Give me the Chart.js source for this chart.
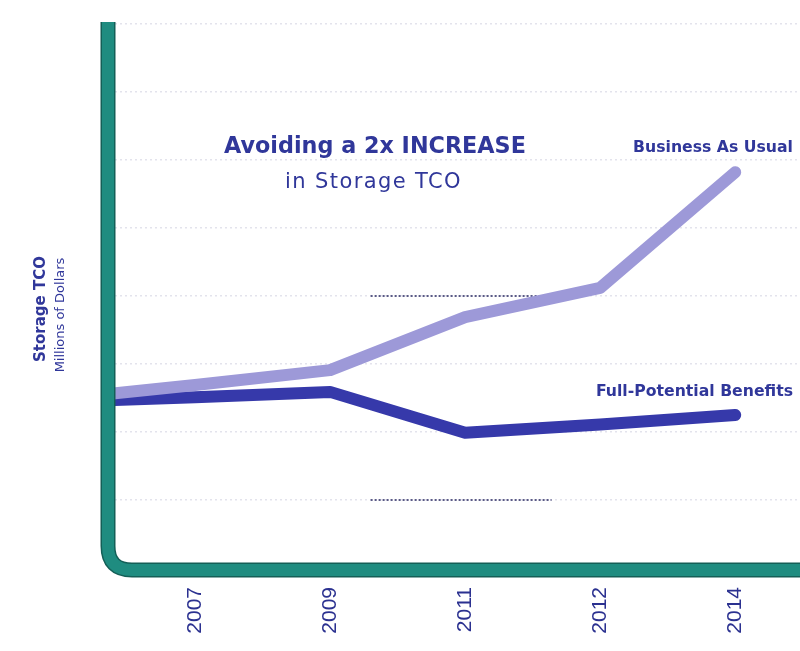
<!DOCTYPE html>
<html><head><meta charset="utf-8">
<script src="https://cdn.jsdelivr.net/npm/chart.js@4/dist/chart.umd.min.js"></script>
<style>html,body{margin:0;padding:0;background:#fff;overflow:hidden}#wrap{width:800px;height:651px}</style>
</head><body><div id="wrap"><canvas id="c" width="800" height="651"></canvas></div>
<script>
// Categories (x axis tick labels)
const years = ['2007', '2009', '2011', '2012', '2014'];
// Storage TCO (arbitrary units) at each year
const businessAsUsual = [26.9, 29.1, 36.9, 41.2, 58.2];
const fullPotential   = [25.1, 25.9, 19.9, 21.1, 22.5];
// Values where each line meets the y axis
const axisStart = { businessAsUsual: 25.7, fullPotential: 24.7 };
// Y gridline values
const yMax = 80, yStep = 10;

const X_MIN = -0.593, X_MAX = 4.48;
function toPoints(start, arr) {
  return [{ x: X_MIN, y: start }].concat(arr.map((v, i) => ({ x: i, y: v })));
}

const NAVY = '#30379a';
const FONT = '"DejaVu Sans"';
const decor = {
  id: 'decor',
  beforeDatasetsDraw(chart) {
    const { ctx } = chart;
    const xs = chart.scales.x, ys = chart.scales.y;
    ctx.save();
    ctx.strokeStyle = '#5b5a86';
    ctx.lineWidth = 2;
    ctx.setLineDash([2, 2]);
    [[40, 1.30, 2.57], [10, 1.30, 2.64]].forEach(([v, a, b]) => {
      const y = ys.getPixelForValue(v);
      ctx.beginPath();
      ctx.moveTo(xs.getPixelForValue(a), y);
      ctx.lineTo(xs.getPixelForValue(b), y);
      ctx.stroke();
    });
    ctx.restore();
  },
  afterDatasetsDraw(chart) {
    const { ctx, chartArea: a } = chart;
    const x0 = a.left - 7, yb = a.bottom + 2, r = 24;
    ctx.save();
    ctx.lineJoin = 'round';
    const path = () => {
      ctx.beginPath();
      ctx.moveTo(x0, a.top - 2);
      ctx.lineTo(x0, yb - r);
      ctx.quadraticCurveTo(x0, yb, x0 + r, yb);
      ctx.lineTo(chart.width + 10, yb);
    };
    path(); ctx.lineWidth = 15; ctx.strokeStyle = '#145f57'; ctx.stroke();
    path(); ctx.lineWidth = 12; ctx.strokeStyle = '#1f8c80'; ctx.stroke();
    ctx.restore();
  },
  afterDraw(chart) {
    const { ctx } = chart;
    ctx.save();
    ctx.fillStyle = NAVY;
    ctx.textBaseline = 'middle';
    ctx.textAlign = 'left';
    ctx.font = 'bold 22.3px ' + FONT;
    ctx.fillText('Avoiding a 2x INCREASE', 224, 147);
    ctx.font = '21px ' + FONT;
    ctx.letterSpacing = '1.4px';
    ctx.fillText('in Storage TCO', 285, 183);
    ctx.letterSpacing = '0px';
    ctx.font = 'bold 15.7px ' + FONT;
    ctx.textAlign = 'right';
    ctx.fillText('Business As Usual', 793, 148);
    ctx.fillText('Full-Potential Benefits', 793, 392);
    // y axis title
    ctx.textAlign = 'center';
    ctx.translate(41, 309);
    ctx.rotate(-Math.PI / 2);
    ctx.font = 'bold 15px ' + FONT;
    ctx.fillText('Storage TCO', 0, 0);
    ctx.font = '13px ' + FONT;
    ctx.fillText('Millions of Dollars', -6, 20);
    ctx.restore();
  }
};

new Chart(document.getElementById('c'), {
  type: 'line',
  data: {
    datasets: [
      {
        label: 'Business As Usual',
        data: toPoints(axisStart.businessAsUsual, businessAsUsual),
        borderColor: '#9d99d8',
        borderWidth: 12,
        pointRadius: 0,
        borderJoinStyle: 'round',
        borderCapStyle: 'round',
        tension: 0
      },
      {
        label: 'Full-Potential Benefits',
        data: toPoints(axisStart.fullPotential, fullPotential),
        borderColor: '#3639aa',
        borderWidth: 12,
        pointRadius: 0,
        borderJoinStyle: 'round',
        borderCapStyle: 'round',
        tension: 0
      }
    ]
  },
  options: {
    responsive: false,
    devicePixelRatio: 1,
    animation: false,
    layout: { padding: { top: 24, right: 0, left: 0, bottom: 0 } },
    plugins: { legend: { display: false }, tooltip: { enabled: false } },
    scales: {
      x: {
        type: 'linear',
        min: X_MIN, max: X_MAX,
        grid: { display: false },
        border: { display: false },
        afterBuildTicks: s => { s.ticks = years.map((_, i) => ({ value: i })); },
        afterFit: s => { s.height = 83; },
        ticks: {
          callback: v => years[v],
          minRotation: 90, maxRotation: 90,
          padding: 11,
          color: '#2b3190',
          font: { family: '"Liberation Sans"', size: 21 }
        }
      },
      y: {
        min: 0, max: yMax,
        afterFit: s => { s.width = 115; },
        ticks: { stepSize: yStep, display: false },
        border: { display: false, dash: [2, 3] },
        grid: {
          drawTicks: false,
          color: 'rgba(175,175,200,0.35)',
          lineWidth: 1.5
        }
      }
    }
  },
  plugins: [decor]
});
</script>
</body></html>
